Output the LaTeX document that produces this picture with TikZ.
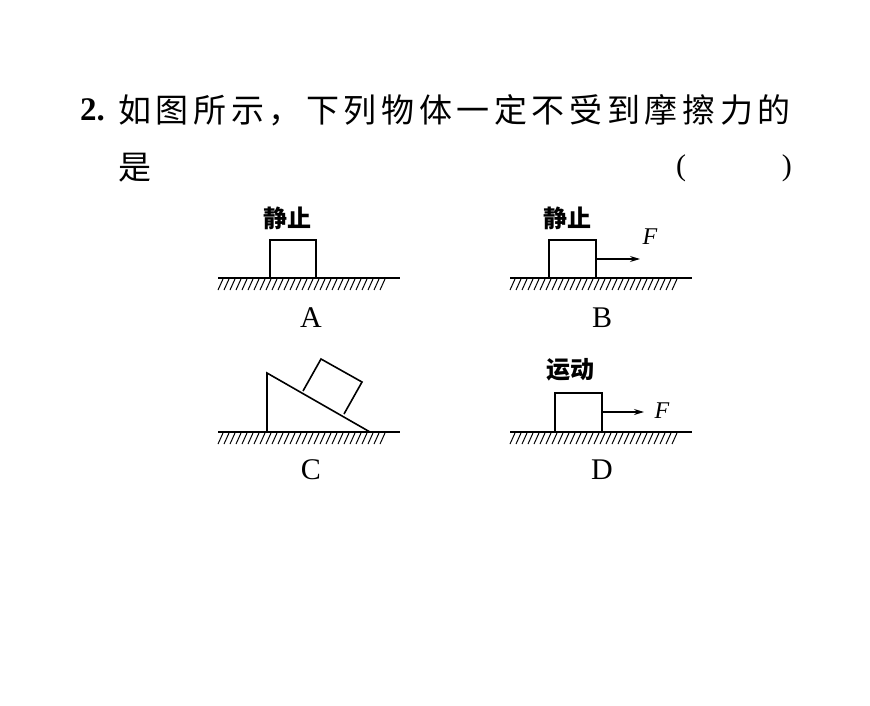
\documentclass[tikz,border=0pt]{standalone}
\usepackage{fontspec}
\newfontfamily\cjk{Noto Sans CJK SC}
\setmainfont{Liberation Serif}
\usetikzlibrary{arrows.meta}
\tikzset{
    ground/.style = {
        line width=1.6pt,
        },
    hatch/.style = {
        line width=1pt,
        },
    body/.style = {
        draw, line width=1.6pt,
        },
    force/.style = {
        line width=1.3pt, -{Stealth[length=10pt, width=6pt]},
        },
    caption/.style = {
        font=\fontsize{30}{30}\selectfont,
        },
    state/.style = {
        font=\cjk\bfseries\fontsize{24}{24}\selectfont,
        },
}
\newcommand{\floor}[2]{% #1 = left x, #2 = y
    \draw[ground] (#1,#2) -- ++(182,0);
    \foreach \i in {0,...,27} {
        \draw[hatch] (#1+\i*6,#2+12) -- ++(5,-11);
    }
}
\begin{document}
\begin{tikzpicture}[x=1pt, y=-1pt]
    \useasboundingbox (0,0) rectangle (870,706);
    % question
    \node[anchor=west, inner sep=0pt, font=\fontsize{33}{33}\selectfont] (num) at (80,110) {\textbf{2.}};
    \node[anchor=west, inner sep=0pt, font=\cjk\fontsize{33}{33}\selectfont\addfontfeature{LetterSpace=14}] (q1) at (118,110) {如图所示，下列物体一定不受到摩擦力的};
    \node[anchor=west, inner sep=0pt, font=\cjk\fontsize{33}{33}\selectfont] (q2) at (118,168) {是};
    \node[anchor=west, inner sep=0pt, font=\fontsize{30}{30}\selectfont] (lp) at (676,168) {(};
    \node[anchor=east, inner sep=0pt, font=\fontsize{30}{30}\selectfont] (rp) at (792,168) {)};

    % A
    \floor{218}{278}
    \draw[body] (270,278) rectangle (316,240);
    \node[state] (sa) at (287,218) {静止};
    \node[caption] (ca) at (311,318) {A};

    % B
    \floor{510}{278}
    \draw[body] (549,278) rectangle (596,240);
    \coordinate (fb) at (640,259);
    \draw[force] (596,259) -- (fb);
    \node[font=\itshape\fontsize{24}{24}\selectfont] (lb) at (650,237) {F};
    \node[state] (sb) at (567,218) {静止};
    \node[caption] (cb) at (602,318) {B};

    % C
    \floor{218}{432}
    \draw[body] (370,432) -- (267,432) -- (267,373) -- cycle;
    \draw[body] (303,391) -- (321,359) -- (362,382) -- (344,414);
    \node[caption] (cc) at (311,470) {C};

    % D
    \floor{510}{432}
    \draw[body] (555,432) rectangle (602,393);
    \coordinate (fd) at (644,412);
    \draw[force] (602,412) -- (fd);
    \node[font=\itshape\fontsize{24}{24}\selectfont] (ld) at (662,411) {F};
    \node[state] (sd) at (570,370) {运动};
    \node[caption] (cd) at (602,470) {D};
\end{tikzpicture}
\end{document}
